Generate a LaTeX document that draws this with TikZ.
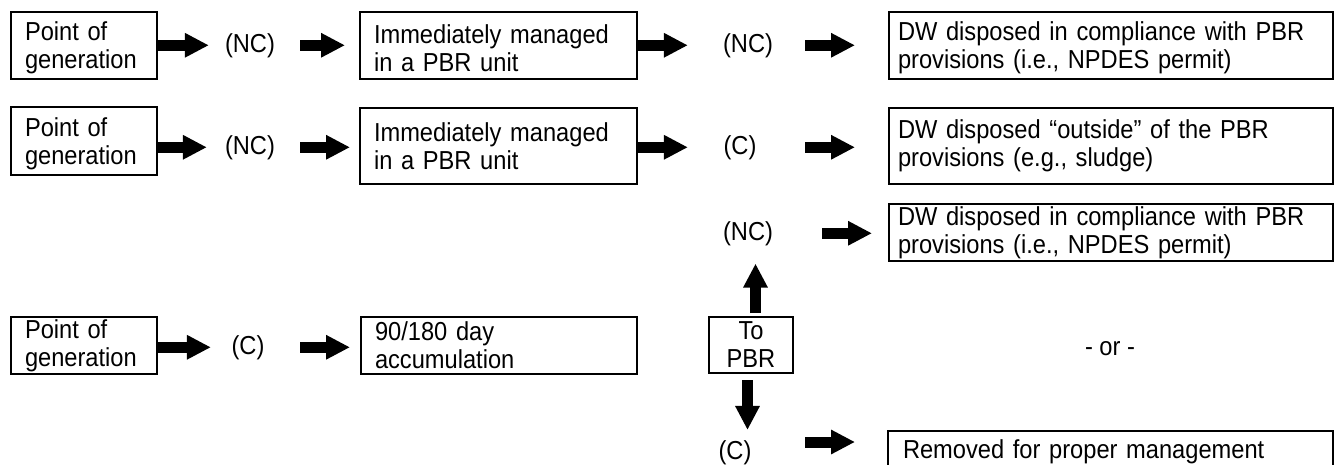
\documentclass[tikz,border=0pt]{standalone}
\usepackage{fontspec}
\setmainfont{Liberation Sans}[FakeStretch=0.91]
\usetikzlibrary{arrows.meta}
\newcommand{\tallrule}[1]{\rule{0pt}{#1}}
\begin{document}
\begin{tikzpicture}[x=1pt,y=-1pt,
  every node/.style={font=\fontsize{26pt}{28pt}\selectfont},
  box/.style={draw, line width=2pt, rectangle, anchor=north west, outer sep=0pt, inner ysep=0pt, align=left},
  lbl/.style={inner sep=0pt, anchor=base},
  blk/.style={line width=11pt, -{Triangle[length=24pt,width=23pt]}}]
\useasboundingbox (0,0) rectangle (1336,464);

% boxes
\node[box, text width=118pt, inner xsep=14pt, minimum height=67pt] (b11) at (11,12) {\tallrule{24pt}Point of\\generation};
\node[box, text width=249pt, inner xsep=14pt, minimum height=67pt] (b12) at (360,12) {\tallrule{24pt}Immediately managed\\in a PBR unit};
\node[box, text width=426pt, inner xsep=9pt, minimum height=67pt] (b13) at (889,12) {\tallrule{24pt}DW disposed in compliance with PBR\\provisions (i.e., NPDES permit)};

\node[box, text width=118pt, inner xsep=14pt, minimum height=68pt] (b21) at (11,107) {\tallrule{25pt}Point of\\generation};
\node[box, text width=249pt, inner xsep=14pt, minimum height=76pt] (b22) at (360,108) {Immediately managed\\in a PBR unit};
\node[box, text width=426pt, inner xsep=9pt, minimum height=76pt] (b23) at (889,108) {DW disposed “outside” of the PBR\\provisions (e.g., sludge)};

\node[box, text width=426pt, inner xsep=9pt, minimum height=57pt] (b33) at (889,204) {DW disposed in compliance with PBR\\provisions (i.e., NPDES permit)};

\node[box, text width=118pt, inner xsep=14pt, minimum height=57pt] (b41) at (11,317) {Point of\\generation};
\node[box, text width=248pt, inner xsep=14pt, minimum height=57pt] (b42) at (361,317) {90/180 day\\accumulation};
\node[box, text width=76pt, inner xsep=4pt, minimum height=56pt, align=center] (tp) at (709,317) {To\\PBR};

\node[box, text width=415pt, inner xsep=15pt, inner ysep=8.5pt] (b53) at (888,431) {Removed for proper management};

% labels
\node[lbl] (nc11) at (250,52) {(NC)};
\node[lbl] (nc12) at (748,52) {(NC)};
\node[lbl] (nc21) at (250,154) {(NC)};
\node[lbl] (c22) at (740,154) {(C)};
\node[lbl] (nc33) at (748,240) {(NC)};
\node[lbl] (c41) at (248,354) {(C)};
\node[lbl] (c53) at (735,459) {(C)};
\node[lbl] (or) at (1110,355) {- or -};

% row 1
\draw[blk] (b11.east |- nc11) -- ([xshift=-16pt]nc11.west);
\draw[blk, shorten <=25pt, shorten >=15pt] (nc11.east) -- (b12.west |- nc11);
\draw[blk] (b12.east |- nc12) -- ([xshift=-35pt]nc12.west);
\draw[blk, shorten <=32pt, shorten >=34pt] (nc12.east) -- (b13.west |- nc12);
% row 2
\draw[blk] (b21.east |- nc21) -- ([xshift=-18pt]nc21.west);
\draw[blk, shorten <=25pt, shorten >=10pt] (nc21.east) -- (b22.west |- nc21);
\draw[blk] (b22.east |- c22) -- ([xshift=-35.5pt]c22.west);
\draw[blk, shorten <=48.5pt, shorten >=34pt] (c22.east) -- (b23.west |- c22);
% row 3
\draw[blk, shorten <=49pt, shorten >=17pt] (nc33.east) -- (b33.west |- nc33);
\draw[blk, shorten <=4pt, shorten >=18pt] ([xshift=4.5pt]tp.north) -- ([xshift=4.5pt]tp.north |- nc33.south);
\draw[blk, shorten <=7pt, shorten >=10pt] ([xshift=-3.5pt]tp.south) -- ([xshift=-3.5pt]tp.south |- c53.north);
% row 4
\draw[blk] (b41.east |- c41) -- ([xshift=-20.5pt]c41.west);
\draw[blk, shorten <=35.5pt, shorten >=11pt] (c41.east) -- (b42.west |- c41);
% bottom
\coordinate (bl) at ([yshift=-11pt]b53.north west);
\draw[blk, shorten <=53.5pt, shorten >=33pt] (bl -| c53.east) -- (bl);
\end{tikzpicture}
\end{document}
